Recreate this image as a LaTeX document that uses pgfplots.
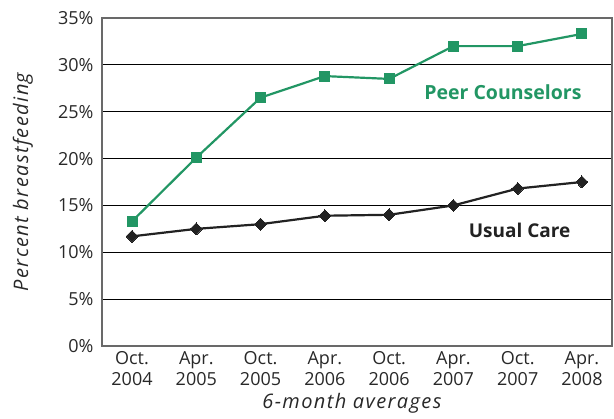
\documentclass[border=0pt]{standalone}
\usepackage{pgfplots}
\pgfplotsset{compat=1.18}
\usepackage{fontspec}
\setmainfont{Open Sans}
\newfontfamily\lblfont[LetterSpace=7]{Open Sans}
\definecolor{peer}{RGB}{34,150,100}
\definecolor{usual}{RGB}{34,34,34}
\definecolor{frame}{RGB}{105,105,105}
\definecolor{txt}{RGB}{40,40,40}
\begin{document}
\begin{tikzpicture}
\useasboundingbox (-102pt,-73pt) rectangle (512pt,346pt);
\begin{axis}[
  at={(0,0)}, anchor=south west,
  scale only axis, width=510pt, height=328pt,
  xmin=-0.467, xmax=7.467, ymin=0, ymax=35,
  xtick={0,...,7},
  xticklabels={{Oct.\\2004},{Apr.\\2005},{Oct.\\2005},{Apr.\\2006},{Oct.\\2006},{Apr.\\2007},{Oct.\\2007},{Apr.\\2008}},
  ytick={0,5,...,35},
  yticklabels={0\%,5\%,10\%,15\%,20\%,25\%,30\%,35\%},
  major tick length=0pt,
  ymajorgrids, grid style={black, line width=0.9pt},
  axis line style={frame, line width=1.6pt},
  tick label style={font=\fontsize{18}{21}\selectfont, text=txt},
  xticklabel style={align=center, yshift=-2pt},
  yticklabel style={xshift=-5pt},
  xlabel={6-month averages},
  ylabel={Percent breastfeeding},
  label style={font=\lblfont\fontsize{20}{23}\selectfont\itshape, text=txt},
  xlabel style={at={(axis description cs:0.49,-0.175)}, anchor=center},
  ylabel style={at={(axis description cs:-0.155,0.5)}, anchor=center},
  clip=false,
]
\addplot[peer, line width=2.2pt, mark=square*, mark size=5pt, mark options={solid, line width=0pt}]
  coordinates {(0,13.3) (1,20.1) (2,26.5) (3,28.8) (4,28.5) (5,32.0) (6,32.0) (7,33.3)};
\addplot[usual, line width=2.2pt, mark=diamond*, mark size=6pt, mark options={solid, line width=0pt, xscale=1.33}]
  coordinates {(0,11.7) (1,12.5) (2,13.0) (3,13.9) (4,14.0) (5,15.0) (6,16.8) (7,17.5)};
\node[font=\fontsize{19.5}{22}\selectfont\bfseries, text=peer] at (axis cs:5.77,27.1) {Peer Counselors};
\node[font=\fontsize{19}{22}\selectfont\bfseries, text=usual] at (axis cs:6.03,12.3) {Usual Care};
\end{axis}
\end{tikzpicture}
\end{document}
